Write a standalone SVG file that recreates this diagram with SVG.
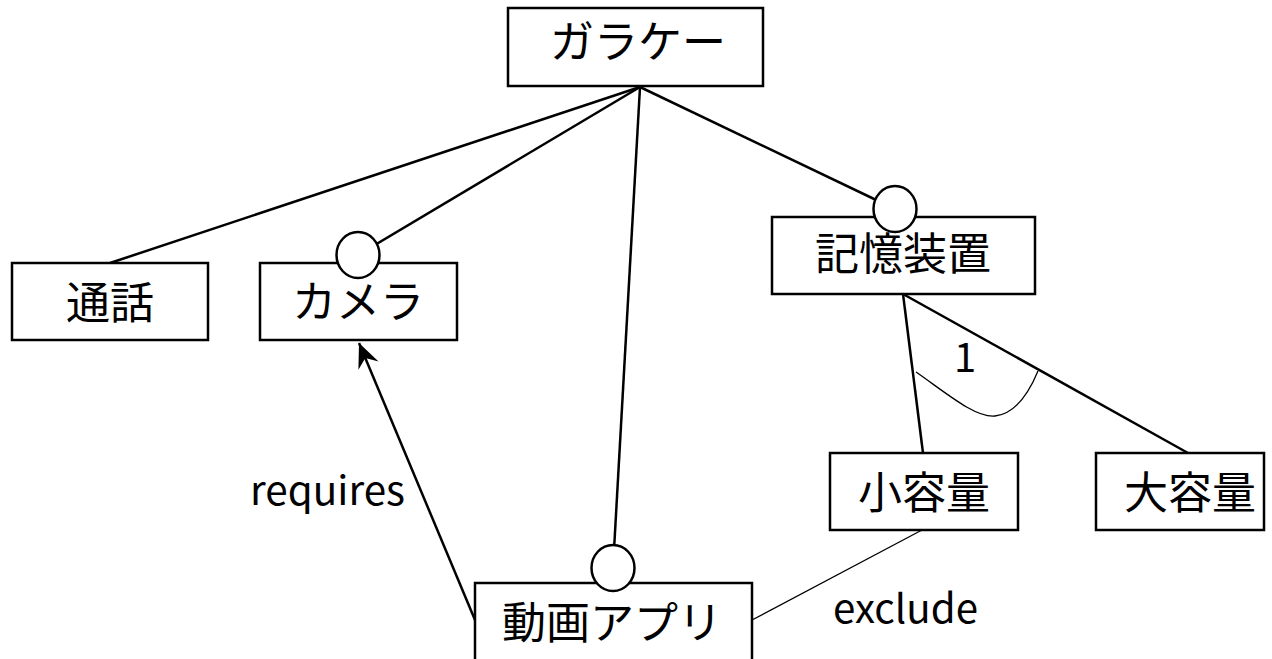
<svg xmlns="http://www.w3.org/2000/svg" width="1272" height="659" viewBox="0 0 1272 659">
<style>
.box{fill:#fff;stroke:#000;stroke-width:2.5}
.opt{fill:#fff;stroke:#000;stroke-width:2.5}
.ln{fill:none;stroke:#000;stroke-width:2.5}
.thin{fill:none;stroke:#000;stroke-width:1.3}
.t{font-family:"Noto Sans CJK JP","Liberation Sans",sans-serif;font-size:44px;fill:#000;text-anchor:middle}
.lbl{font-family:"Noto Sans CJK JP","Liberation Sans",sans-serif;font-size:40px;fill:#000}
</style>
<defs>
<marker id="arr" markerUnits="userSpaceOnUse" markerWidth="30" markerHeight="30" viewBox="-20 -10 22 20" refX="0" refY="0" orient="auto">
<path d="M0,0 L-18,-8 L-12,0 L-18,8 Z" fill="#000"/>
</marker>
</defs>
<g id="connectors">
<line class="ln" x1="640" y1="87" x2="110" y2="263"/>
<line class="ln" x1="640" y1="87" x2="358" y2="255"/>
<line class="ln" x1="640" y1="87" x2="895" y2="209"/>
<line class="ln" x1="640" y1="87" x2="613" y2="568"/>
<line class="ln" x1="903" y1="294" x2="923" y2="453"/>
<line class="ln" x1="903" y1="294" x2="1188" y2="453"/>
<path class="thin" d="M916,372 C945,392 975,418 995,416 C1015,414 1028,395 1038,371"/>
<text class="lbl" x="965" y="372" text-anchor="middle">1</text>
<line class="ln" x1="475" y1="620" x2="359" y2="343" marker-end="url(#arr)"/>
<text class="lbl" x="250" y="505" textLength="155" lengthAdjust="spacingAndGlyphs">requires</text>
<line class="thin" x1="922" y1="530" x2="752" y2="620"/>
<text class="lbl" x="833" y="623" textLength="145" lengthAdjust="spacingAndGlyphs">exclude</text>
</g>
<g id="node-garake">
<rect class="box" x="508" y="8" width="255" height="78"/>
<text class="t" x="638" y="58">ガラケー</text>
</g>
<g id="node-tsuwa">
<rect class="box" x="12" y="263" width="196" height="77"/>
<text class="t" x="110" y="319">通話</text>
</g>
<g id="node-camera">
<rect class="box" x="260" y="263" width="197" height="77"/>
<ellipse class="opt" cx="358" cy="255" rx="21.5" ry="23"/>
<text class="t" x="358" y="318">カメラ</text>
</g>
<g id="node-storage">
<rect class="box" x="772" y="217" width="263" height="77"/>
<ellipse class="opt" cx="895" cy="209" rx="21.5" ry="23"/>
<text class="t" x="903" y="270">記憶装置</text>
</g>
<g id="node-small">
<rect class="box" x="830" y="453" width="188" height="77"/>
<text class="t" x="924" y="509">小容量</text>
</g>
<g id="node-large">
<rect class="box" x="1096" y="453" width="168" height="77"/>
<text class="t" x="1190" y="509">大容量</text>
</g>
<g id="node-video">
<rect class="box" x="475" y="583" width="277" height="90"/>
<ellipse class="opt" cx="613" cy="568" rx="21.5" ry="23"/>
<text class="t" x="612" y="639">動画アプリ</text>
</g>
</svg>
